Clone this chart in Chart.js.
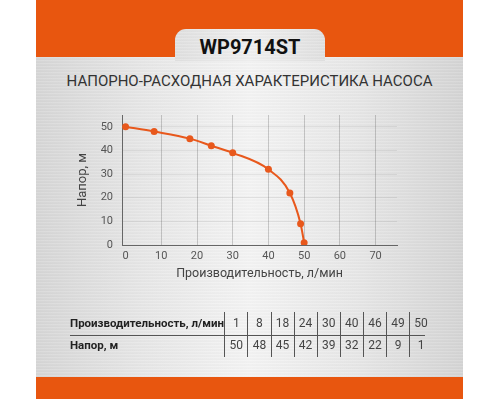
<!DOCTYPE html>
<html>
<head>
<meta charset="utf-8">
<script src="https://cdn.jsdelivr.net/npm/chart.js@4"></script>
<style>
html,body{margin:0;padding:0;background:#fff;}
#page{position:relative;width:500px;height:400px;overflow:hidden;font-family:Roboto,"DejaVu Sans",sans-serif;}
#metal{position:absolute;left:36px;top:57px;width:427px;height:320px;
 background:
  repeating-linear-gradient(180deg, rgba(255,255,255,0.12) 0px, rgba(255,255,255,0.12) 1px, rgba(0,0,0,0.03) 2px, rgba(0,0,0,0) 3px),
  linear-gradient(90deg,#d6d6d6 0%,#e7e7e7 25%,#f4f4f4 50%,#e7e7e7 75%,#d4d4d4 100%);}
#topbar{position:absolute;left:36px;top:0;width:427px;height:57px;background:#e8560f;}
#botbar{position:absolute;left:36px;top:377px;width:427px;height:22px;background:#e8560f;}
#tab{position:absolute;left:175px;top:29px;width:150px;height:32px;border-radius:11px 11px 0 0;
 background:
  repeating-linear-gradient(180deg, rgba(255,255,255,0.12) 0px, rgba(255,255,255,0.12) 1px, rgba(0,0,0,0.03) 2px, rgba(0,0,0,0) 3px),
  linear-gradient(90deg,#e0e0e0,#f0f0f0 50%,#e0e0e0);}
#model{position:absolute;left:175px;top:34px;width:150px;text-align:center;font-weight:700;font-size:20px;color:#111;line-height:26px;}
#subtitle{position:absolute;left:36px;top:72px;width:427px;text-align:center;font-size:15px;color:#333;line-height:19px;}
#chartbox{position:absolute;left:0;top:0;width:500px;height:400px;}
.tline{position:absolute;background:#555;}
.tcell{position:absolute;font-size:12px;color:#444;line-height:14px;width:23px;text-align:center;}
.tlabel{position:absolute;left:70px;font-size:11.5px;font-weight:700;color:#222;line-height:14px;}
</style>
</head>
<body>
<div id="page">
 <div id="metal"></div>
 <div id="topbar"></div>
 <div id="botbar"></div>
 <div id="tab"></div>
 <div id="model">WP9714ST</div>
 <div id="subtitle">НАПОРНО-РАСХОДНАЯ ХАРАКТЕРИСТИКА НАСОСА</div>
 <div id="chartbox"><canvas id="c" width="500" height="400"></canvas></div>
</div>
<script>
// ---- data ----
const chartFlow = [0, 8, 18, 24, 30, 40, 46, 49, 50];
const chartHead = [50, 48, 45, 42, 39, 32, 22, 9, 1];
const tableFlow = [1, 8, 18, 24, 30, 40, 46, 49, 50];
const tableHead = [50, 48, 45, 42, 39, 32, 22, 9, 1];
const xTickValues = [0, 10, 20, 30, 40, 50, 60, 70];
const yTickValues = [0, 10, 20, 30, 40, 50];
const xTitle = 'Производительность, л/мин';
const yTitle = 'Напор, м';
const rowLabelFlow = 'Производительность, л/мин';
const rowLabelHead = 'Напор, м';

// ---- table ----
(function(){
  const page = document.getElementById('page');
  const x0 = 224.3, colW = 23.1;
  function add(cls, style, text){
    const d = document.createElement('div');
    d.className = cls; Object.assign(d.style, style);
    if (text !== undefined) d.textContent = text;
    page.appendChild(d);
  }
  add('tlabel', {top:'316px'}, rowLabelFlow);
  add('tlabel', {top:'338px'}, rowLabelHead);
  add('tline', {left:'70px', top:'335px', width:'355px', height:'1px'});
  for (let i = 0; i < tableFlow.length; i++) {
    const lx = x0 + i*colW;
    add('tline', {left:lx.toFixed(1)+'px', top:'312px', width:'1px', height:'45px'});
    add('tcell', {left:(lx+0.5).toFixed(1)+'px', top:'316px'}, String(tableFlow[i]));
    add('tcell', {left:(lx+0.5).toFixed(1)+'px', top:'338px'}, String(tableHead[i]));
  }
})();

// ---- chart ----
const orange = '#e8581c';
new Chart(document.getElementById('c'), {
  type: 'line',
  data: {
    datasets: [{
      data: chartFlow.map((x, i) => ({x: x, y: chartHead[i]})),
      borderColor: orange,
      backgroundColor: orange,
      borderWidth: 2,
      pointRadius: 3.5,
      pointBackgroundColor: orange,
      pointBorderWidth: 0,
      cubicInterpolationMode: 'monotone',
      fill: false
    }]
  },
  options: {
    responsive: false,
    animation: false,
    events: [],
    layout: {padding: {left: 70, top: 115, right: 103, bottom: 119}},
    plugins: {legend: {display: false}, tooltip: {enabled: false}},
    scales: {
      x: {
        type: 'linear', min: -1, max: 76,
        afterBuildTicks: s => { s.ticks = xTickValues.map(v => ({value: v})); },
        afterFit: s => { s.height = 36; },
        ticks: {color: '#555', font: {family: 'Roboto', size: 11}, padding: 5},
        grid: {drawTicks: false, color: ctx => (ctx.tick && ctx.tick.value === 0) ? 'rgba(0,0,0,0)' : 'rgba(0,0,0,0.18)', lineWidth: 1},
        border: {color: '#666', width: 1},
        title: {display: true, text: xTitle, color: '#444', font: {family: 'Roboto', size: 12.5}, padding: {top: 0, bottom: 0}}
      },
      y: {
        type: 'linear', min: 0, max: 55,
        afterBuildTicks: s => { s.ticks = yTickValues.map(v => ({value: v})); },
        afterFit: s => { s.width = 52; },
        ticks: {color: '#555', font: {family: 'Roboto', size: 11}, padding: 9},
        grid: {drawTicks: false, color: 'rgba(0,0,0,0.07)', lineWidth: 1},
        border: {color: '#666', width: 1},
        title: {display: true, text: yTitle, color: '#444', font: {family: 'Roboto', size: 13}, padding: {top: 5, bottom: 0}}
      }
    }
  }
});
</script>
</body>
</html>
